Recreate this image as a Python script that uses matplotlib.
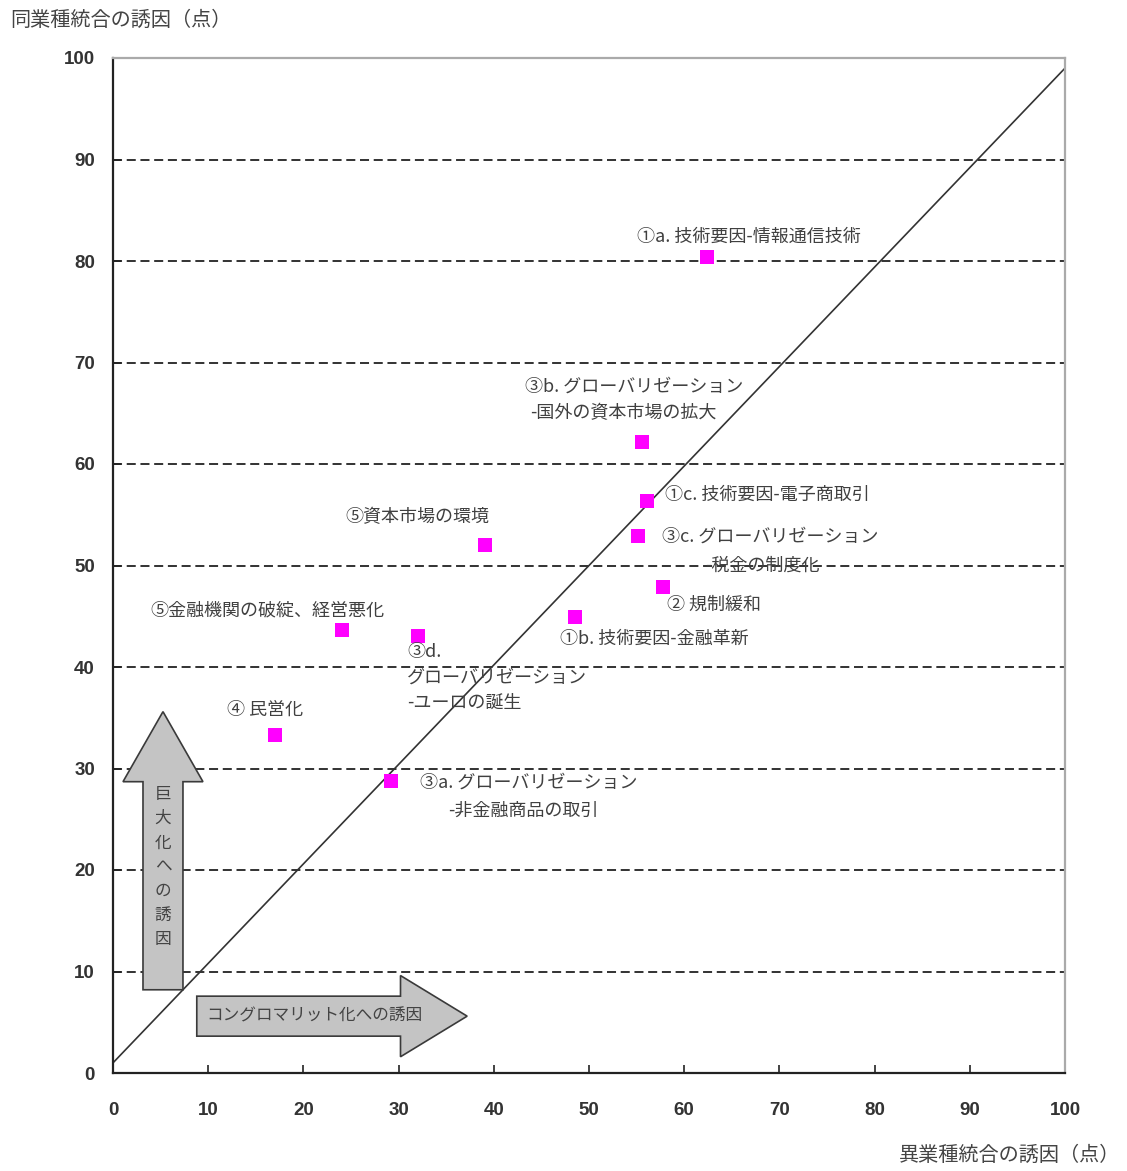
import matplotlib
matplotlib.use("Agg")
import matplotlib.pyplot as plt
from matplotlib.patches import FancyArrow

plt.rcParams['font.family'] = ['Noto Sans CJK JP', 'DejaVu Sans']

# Scores: cross-industry incentive (x) vs same-industry incentive (y)
x_scores = [62.4, 55.6, 56.1, 55.1, 39.1, 57.8, 48.5, 24.1, 32.0, 17.0, 29.2]
y_scores = [80.4, 62.2, 56.4, 52.9, 52.0, 47.9, 44.9, 43.6, 43.1, 33.3, 28.8]
factor_names = [
    ["①a. 技術要因-情報通信技術"],
    ["③b. グローバリゼーション", "-国外の資本市場の拡大"],
    ["①c. 技術要因-電子商取引"],
    ["③c. グローバリゼーション", "-税金の制度化"],
    ["⑤資本市場の環境"],
    ["② 規制緩和"],
    ["①b. 技術要因-金融革新"],
    ["⑤金融機関の破綻、経営悪化"],
    ["③d.", "グローバリゼーション", "-ユーロの誕生"],
    ["④ 民営化"],
    ["③a. グローバリゼーション", "-非金融商品の取引"],
]
x_ticks = [0, 10, 20, 30, 40, 50, 60, 70, 80, 90, 100]
y_ticks = [0, 10, 20, 30, 40, 50, 60, 70, 80, 90, 100]

# Placement of each label line (left edge, vertical centre) in data units
label_layout = [
    [(55.0, 82.4)],
    [(43.3, 67.6), (43.8, 65.0)],
    [(58.0, 57.0)],
    [(57.7, 52.8), (62.2, 50.0)],
    [(24.4, 54.8)],
    [(58.2, 46.1)],
    [(47.0, 42.8)],
    [(3.9, 45.6)],
    [(30.9, 41.5), (30.9, 39.0), (30.9, 36.5)],
    [(12.0, 35.8)],
    [(32.2, 28.6), (35.2, 25.8)],
]

W, H = 1127, 1171
fig = plt.figure(figsize=(W / 100, H / 100), dpi=100)
ax = fig.add_axes([113 / W, 1 - 1073 / H, (1065 - 113) / W, (1073 - 58) / H])
ax.set_xlim(0, 100)
ax.set_ylim(0, 100)

# Horizontal dashed grid
for yv in y_ticks[1:-1]:
    ax.axhline(yv, color='#222222', lw=1.3, dashes=(5, 2.6), zorder=1)

# Reference diagonal
ax.plot([0, 100], [1, 99], color='#333333', lw=1.2, zorder=2)

# Direction arrows
ax.add_patch(FancyArrow(5.25, 8.2, 0, 27.4, width=4.2, head_width=8.4,
                        head_length=6.9, length_includes_head=True,
                        facecolor='#c4c4c4', edgecolor='#3a3a3a', lw=1.2, zorder=3))
ax.add_patch(FancyArrow(8.8, 5.6, 28.4, 0, width=3.94, head_width=8.0,
                        head_length=7.0, length_includes_head=True,
                        facecolor='#c4c4c4', edgecolor='#3a3a3a', lw=1.2, zorder=3))
ax.text(5.25, 20.3, "巨\n大\n化\nへ\nの\n誘\n因", ha='center', va='center',
        fontsize=12, color='#444444', linespacing=1.55, zorder=4)
ax.text(9.8, 5.6, "コングロマリット化への誘因", ha='left', va='center',
        fontsize=12, color='#444444', zorder=4)

# Data points
ax.plot(x_scores, y_scores, linestyle='none', marker='s', markersize=10,
        color='#ff00ff', markeredgewidth=0, zorder=5)

# Factor labels
for lines, places in zip(factor_names, label_layout):
    for txt, (lx, ly) in zip(lines, places):
        ax.text(lx, ly, txt, ha='left', va='center', fontsize=13,
                color='#404040', zorder=6)

# Axes styling
ax.set_xticks(x_ticks)
ax.set_yticks(y_ticks)
ax.tick_params(direction='in', length=6, width=1.2, color='#222222',
               labelsize=13.5, labelcolor='#333333')
ax.tick_params(axis='x', pad=21)
ax.tick_params(axis='y', pad=13)
for t in ax.get_xticklabels() + ax.get_yticklabels():
    t.set_fontfamily(['Liberation Sans', 'DejaVu Sans'])
    t.set_fontweight('bold')
ax.spines['left'].set_color('#222222')
ax.spines['bottom'].set_color('#222222')
ax.spines['left'].set_linewidth(1.6)
ax.spines['bottom'].set_linewidth(1.6)
ax.spines['top'].set_color('#aaaaaa')
ax.spines['right'].set_color('#aaaaaa')
ax.spines['top'].set_linewidth(1.6)
ax.spines['right'].set_linewidth(1.6)

fig.text(10 / W, 1 - 20 / H, "同業種統合の誘因（点）", ha='left', va='center',
         fontsize=14.5, color='#444444')
fig.text(1120 / W, 1 - 1155 / H, "異業種統合の誘因（点）", ha='right', va='center',
         fontsize=14.5, color='#444444')

fig.savefig("out.png", dpi=100, facecolor='white')
